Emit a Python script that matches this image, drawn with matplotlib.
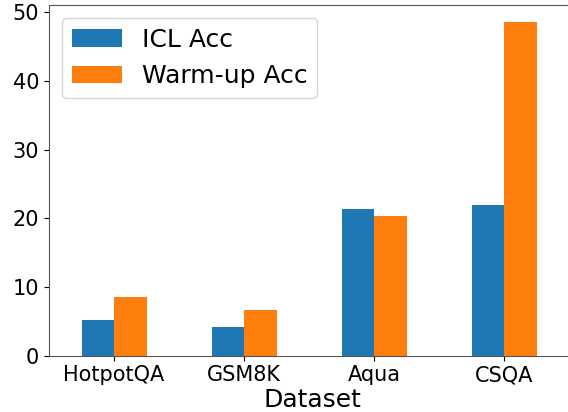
import matplotlib
matplotlib.use("Agg")
import matplotlib.pyplot as plt
import numpy as np

datasets = ["HotpotQA", "GSM8K", "Aqua", "CSQA"]
icl_acc = [5.2, 4.2, 21.3, 21.9]
warmup_acc = [8.5, 6.6, 20.4, 48.6]
series_names = ["ICL Acc", "Warm-up Acc"]

fig = plt.figure(figsize=(5.68, 4.12), dpi=100)
ax = fig.add_axes([49/568, (412-355.7)/412, 526/568, 350.7/412])

x = np.arange(len(datasets))
w = 0.25
ax.bar(x - w/2, icl_acc, w, color="#1f77b4", label=series_names[0])
ax.bar(x + w/2, warmup_acc, w, color="#ff7f0e", label=series_names[1])
ax.set_xlim(-0.5, len(datasets) - 0.5 + 6/130)
ax.set_ylim(0, max(warmup_acc) * 1.05)
ax.set_xticks(x)
ax.set_xticklabels(datasets, fontsize=15)
ax.tick_params(axis="y", labelsize=15)
ax.set_xlabel("Dataset", fontsize=18, labelpad=2)
for s in ax.spines.values():
    s.set_color("#555555")
ax.legend(loc="upper left", fontsize=18)

fig.savefig("out.png", dpi=100)
